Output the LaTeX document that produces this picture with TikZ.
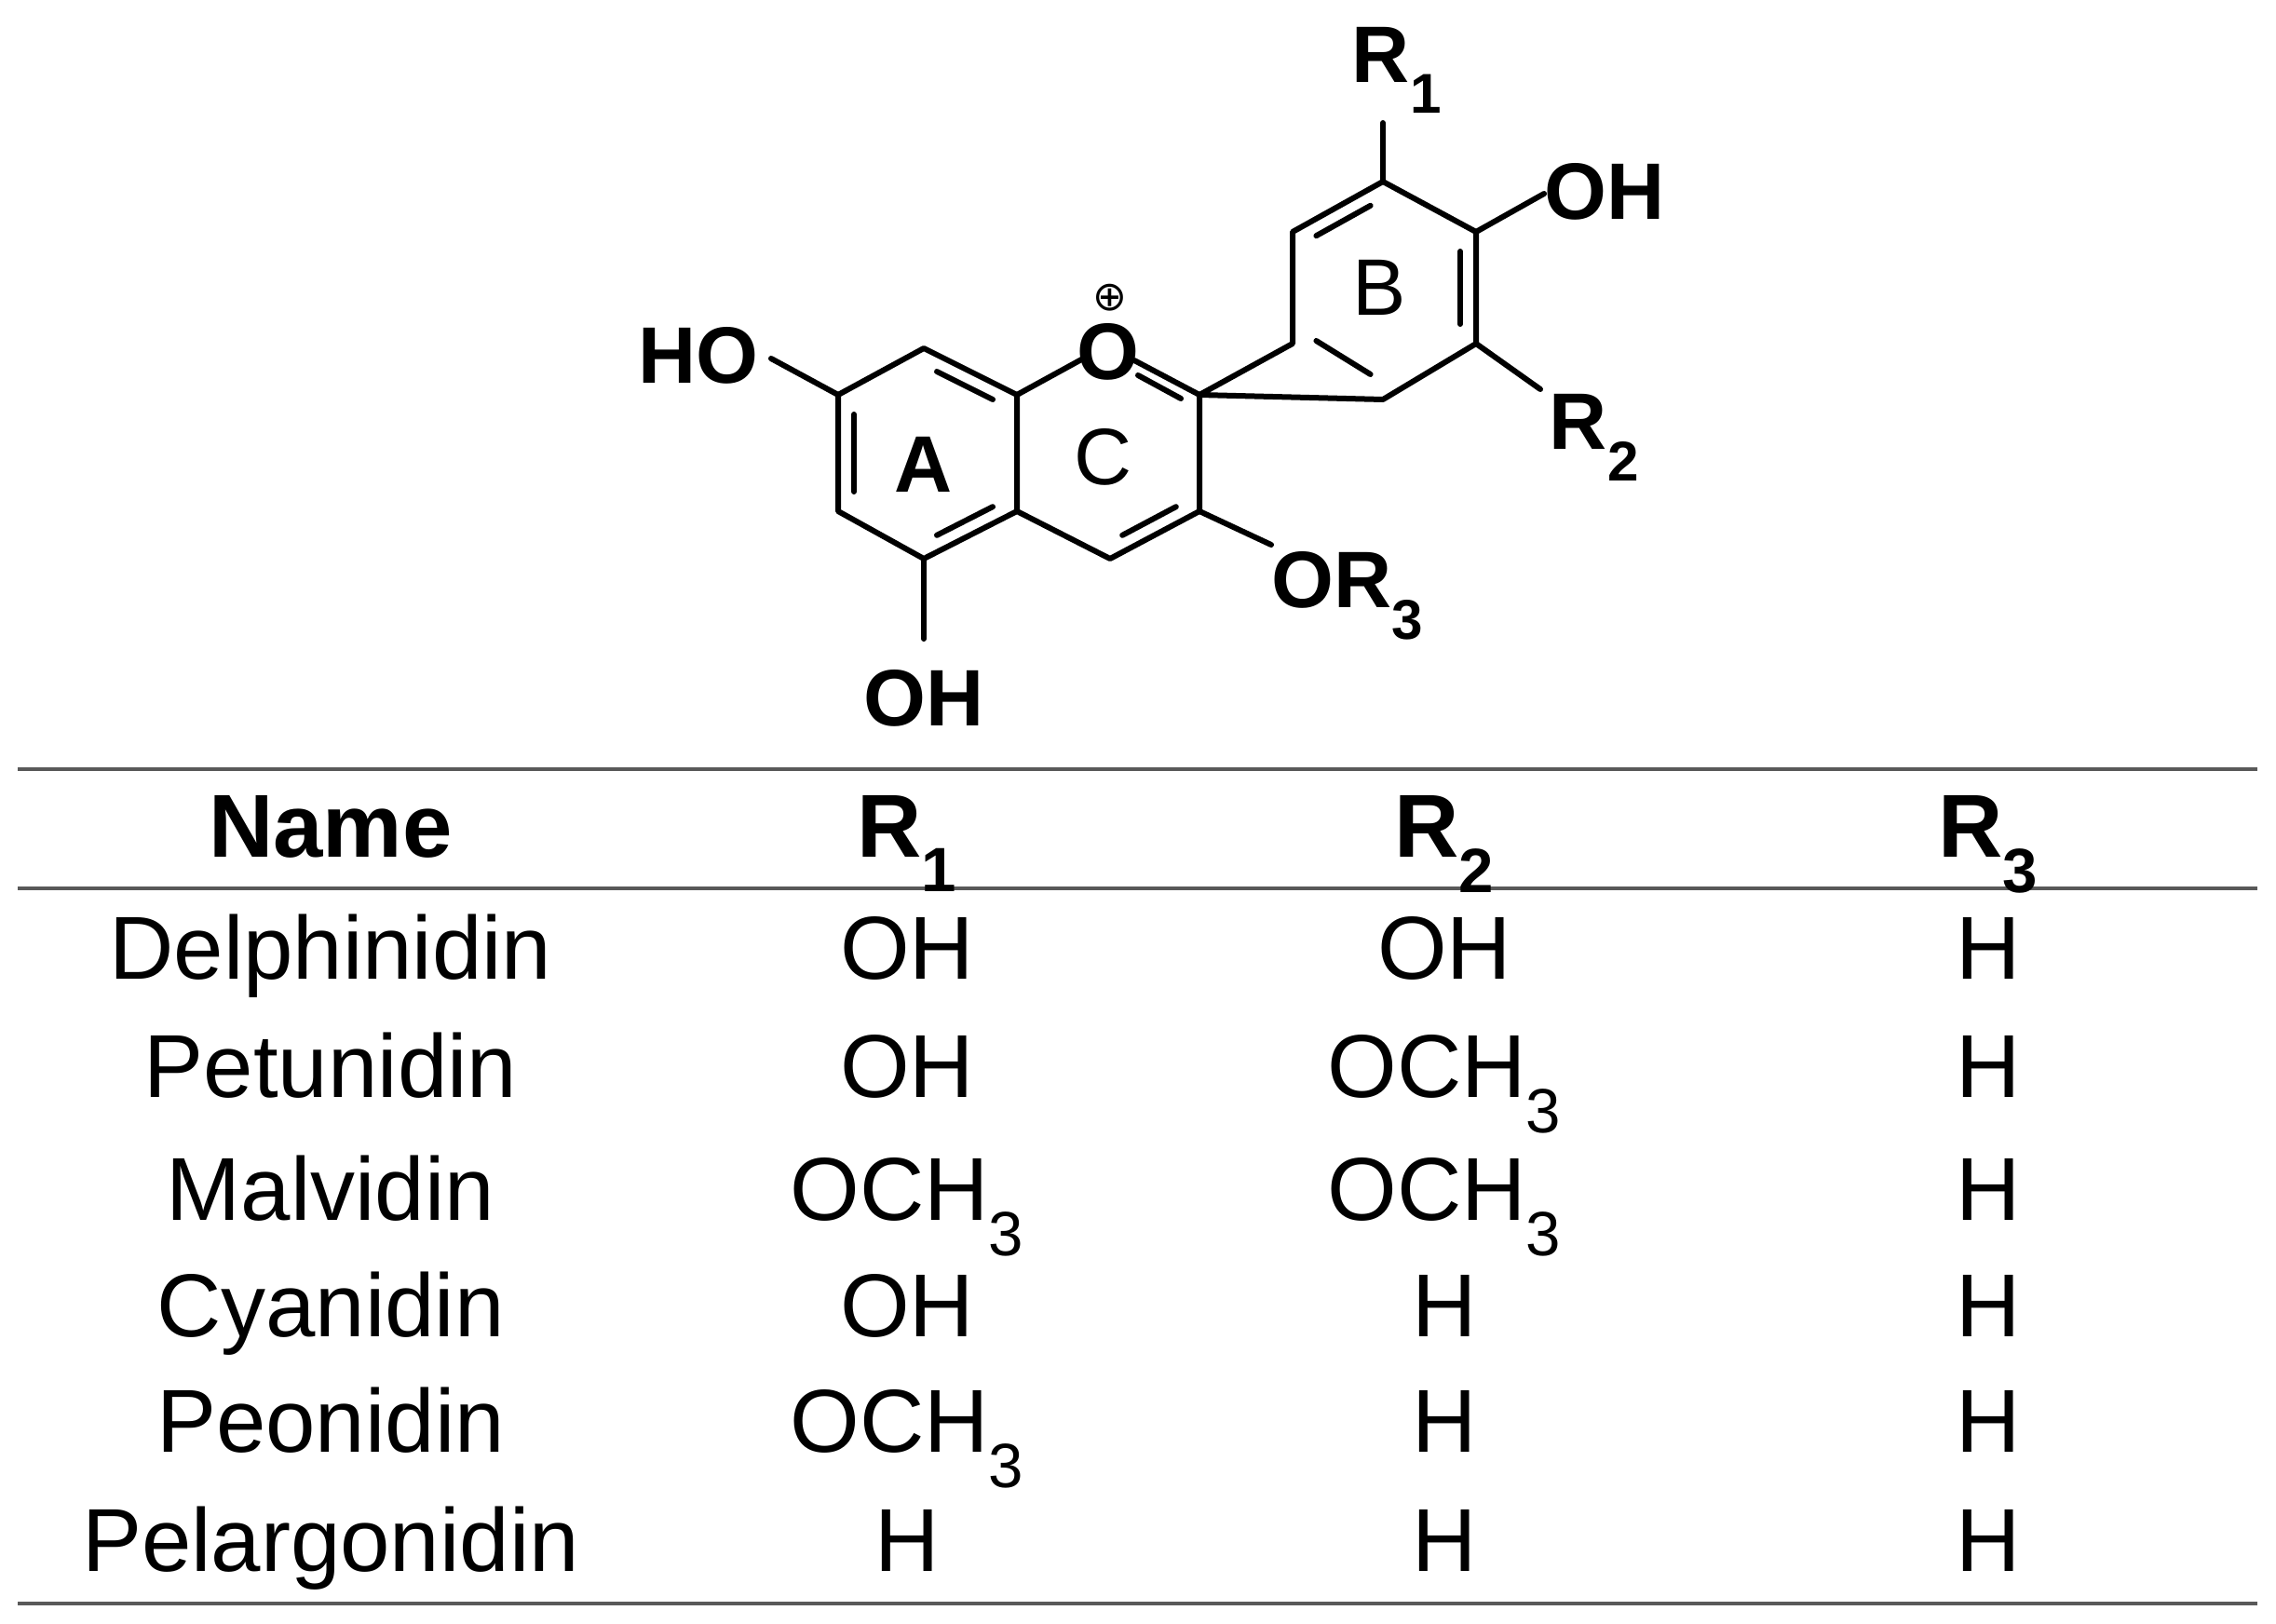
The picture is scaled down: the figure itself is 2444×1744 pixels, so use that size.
\documentclass[tikz,border=0pt]{standalone}
\usepackage{fontspec}
\setmainfont{Liberation Sans}
\newfontfamily\symfont{DejaVu Sans}
\usetikzlibrary{calc}
\begin{document}
\begin{tikzpicture}[x=1pt,y=-1pt,
  bond/.style={line width=6pt,line cap=round,line join=round},
  lbl/.style={font=\fontsize{86}{90}\selectfont\bfseries,inner sep=0pt},
  cell/.style={font=\fontsize{96}{100}\selectfont,inner sep=0pt,anchor=base},
  hcell/.style={font=\fontsize{96}{100}\selectfont\bfseries,inner sep=0pt,anchor=base},
  rule/.style={line width=3.5pt,draw=black!65}]
\useasboundingbox (0,0) rectangle (2444,1744);
% ring A
\coordinate (a1) at (992,374); \coordinate (a2) at (900,424); \coordinate (a3) at (900,549);
\coordinate (a4) at (992,600); \coordinate (a5) at (1092,549); \coordinate (a6) at (1092,424);
% ring C
\coordinate (o) at (1192,374); \coordinate (c2) at (1288,424); \coordinate (c3) at (1288,549); \coordinate (c4) at (1192,600);
% ring B
\coordinate (b1) at (1388,369); \coordinate (b2) at (1388,249); \coordinate (b3) at (1485,195);
\coordinate (b4) at (1585,249); \coordinate (b5) at (1585,369); \coordinate (b6) at (1485,429);
\draw[bond] (a1)--(a2)--(a3)--(a4)--(a5)--(a6)--cycle;
\draw[bond] (a6)--(1165,384);
\draw[bond] (1218,387)--(c2)--(c3)--(c4)--(a5);
\draw[bond] (c2)--(b1)--(b2)--(b3)--(b4)--(b5)--(b6)--cycle;
% inner double bond lines
\draw[bond] ($(a1)!0.2!(a6)+(-6,15)$) -- ($(a1)!0.8!(a6)+(-6,15)$);
\draw[bond] (917,445) -- (917,528);
\draw[bond] ($(a4)!0.2!(a5)+(-6,-15)$) -- ($(a4)!0.8!(a5)+(-6,-15)$);
\draw[bond] (1222,403) -- (1268,428);
\draw[bond] ($(c3)!0.2!(c4)+(-6,-15)$) -- ($(c3)!0.8!(c4)+(-6,-15)$);
\draw[bond] ($(b2)!0.2!(b3)+(6,15)$) -- ($(b2)!0.8!(b3)+(6,15)$);
\draw[bond] (1568,270) -- (1568,348);
\draw[bond] ($(b1)!0.2!(b6)+(6,-15)$) -- ($(b1)!0.8!(b6)+(6,-15)$);
% substituents
\draw[bond] (a2)--(828,385);
\draw[bond] (a4)--(992,686);
\draw[bond] (c3)--(1365,585);
\draw[bond] (b3)--(1485,132);
\draw[bond] (b4)--(1658,208);
\draw[bond] (b5)--(1654,418);
\node[lbl] (ho) at (750,382) {HO};
\node[lbl] (oh5) at (992,750) {OH};
\node[lbl,anchor=west] (or3) at (1365,640) {OR\textsubscript{3}};
\node[lbl] (r1) at (1500,75) {R\textsubscript{1}};
\node[lbl] (oh4) at (1723,206) {OH};
\node[lbl] (r2) at (1712,470) {R\textsubscript{2}};
\node[lbl] (ox) at (1190,378) {O};
\node[inner sep=0pt,font=\fontsize{44}{46}\selectfont\symfont] (plus) at (1192,320) {⊕};
\node[lbl] (la) at (992,499) {A};
\node[lbl,font=\fontsize{86}{90}\selectfont] (lc) at (1185,491) {C};
\node[lbl,font=\fontsize{86}{90}\selectfont] (lb) at (1481,309) {B};
% table
\draw[rule] (19,826) -- (2424,826);
\draw[rule] (19,954) -- (2424,954);
\draw[rule] (19,1722) -- (2424,1722);
\node[hcell] at (355,920) {Name};
\node[hcell] at (974,920) {R\textsubscript{1}};
\node[hcell] at (1551,920) {R\textsubscript{2}};
\node[hcell] at (2135,920) {R\textsubscript{3}};
\foreach \y/\n/\a/\b [count=\i] in {1051/Delphinidin/OH/OH, 1178/Petunidin/OH/OCH\textsubscript{3}, 1310/Malvidin/OCH\textsubscript{3}/OCH\textsubscript{3}, 1435/Cyanidin/OH/H, 1559/Peonidin/OCH\textsubscript{3}/H, 1687/Pelargonidin/H/H}{
  \node[cell] (n\i) at (355,\y) {\n};
  \node[cell] (r\i a) at (974,\y) {\a};
  \node[cell] (r\i b) at (1551,\y) {\b};
  \node[cell] (r\i c) at (2135,\y) {H};
}
\end{tikzpicture}
\end{document}
